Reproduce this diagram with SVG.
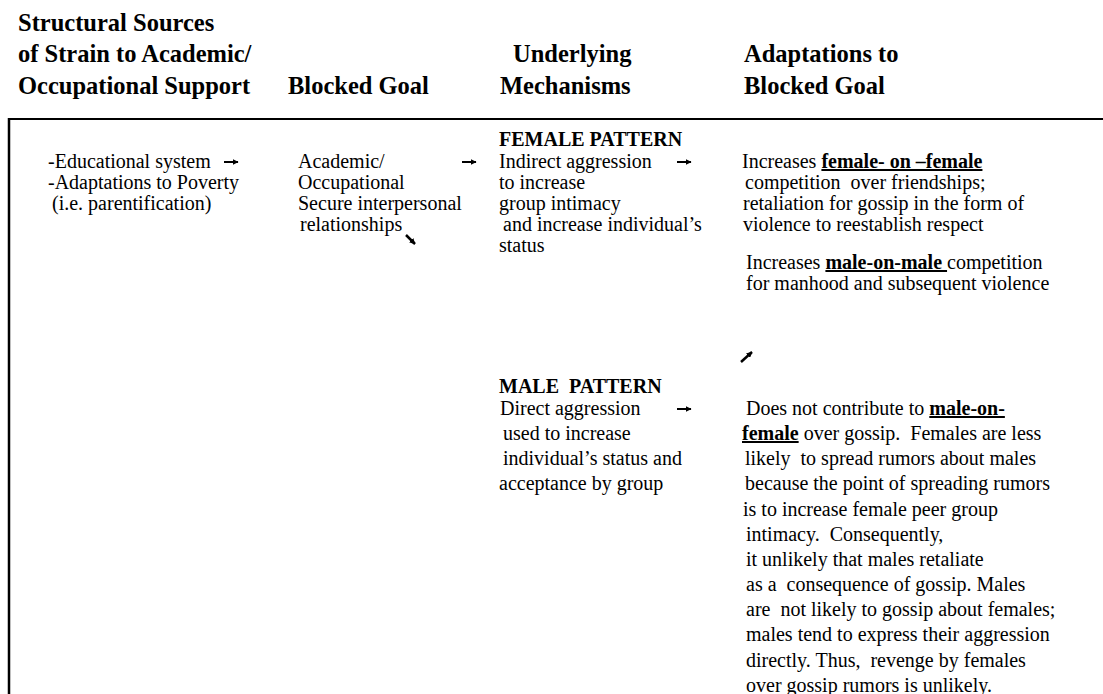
<svg xmlns="http://www.w3.org/2000/svg" width="1103" height="694" viewBox="0 0 1103 694">
  <defs>
    <marker id="head" viewBox="0 0 10 10" refX="9" refY="5" markerWidth="6" markerHeight="6" markerUnits="userSpaceOnUse" orient="auto">
      <path d="M0,0 L10,5 L0,10 Z" fill="#000"/>
    </marker>
    <style>
      text { font-family: "Liberation Serif", "Times New Roman", serif; fill: #000; white-space: pre; }
      .hd { font-size: 24.5px; font-weight: bold; }
      .tx { font-size: 20px; }
      .pt { font-size: 20px; font-weight: bold; }
      .em { font-weight: bold; text-decoration: underline; }
      .rule { stroke: #000; fill: none; }
      .arr { stroke: #000; stroke-width: 2; fill: none; marker-end: url(#head); }
      .diag { stroke: #000; stroke-width: 2.5; fill: none; marker-end: url(#head); }
    </style>
  </defs>
  <rect width="1103" height="694" fill="#fff"/>

  <!-- column headings -->
  <g id="headings">
    <text class="hd" x="18" y="31">Structural Sources</text>
    <text class="hd" x="18" y="62">of Strain to Academic/</text>
    <text class="hd" x="18" y="94">Occupational Support</text>
    <text class="hd" x="288" y="94">Blocked Goal</text>
    <text class="hd" x="513" y="62">Underlying</text>
    <text class="hd" x="500" y="94">Mechanisms</text>
    <text class="hd" x="744" y="62">Adaptations to</text>
    <text class="hd" x="744" y="94">Blocked Goal</text>
  </g>

  <!-- table frame -->
  <g id="frame">
    <line class="rule" x1="8" y1="119" x2="1103" y2="119" stroke-width="2"/>
    <line class="rule" x1="9" y1="118" x2="9" y2="694" stroke-width="2.5"/>
  </g>

  <g id="sources">
    <text class="tx" x="48" y="168">-Educational system</text>
    <text class="tx" x="48" y="189">-Adaptations to Poverty</text>
    <text class="tx" x="52" y="210">(i.e. parentification)</text>
  </g>

  <g id="blocked-goal">
    <text class="tx" x="298" y="168">Academic/</text>
    <text class="tx" x="298" y="189">Occupational</text>
    <text class="tx" x="298" y="210">Secure interpersonal</text>
    <text class="tx" x="300" y="231">relationships</text>
  </g>

  <g id="female-mechanism">
    <text class="pt" x="499" y="146">FEMALE PATTERN</text>
    <text class="tx" x="499" y="168">Indirect aggression</text>
    <text class="tx" x="499" y="189">to increase</text>
    <text class="tx" x="499" y="210">group intimacy</text>
    <text class="tx" x="503" y="231">and increase individual’s</text>
    <text class="tx" x="499" y="252">status</text>
  </g>

  <g id="female-adaptation">
    <text class="tx" x="742" y="168">Increases <tspan class="em">female- on –female</tspan></text>
    <text class="tx" x="745" y="189">competition  over friendships;</text>
    <text class="tx" x="743" y="210">retaliation for gossip in the form of</text>
    <text class="tx" x="743" y="231">violence to reestablish respect</text>
  </g>

  <g id="male-competition">
    <text class="tx" x="746" y="269">Increases <tspan class="em">male-on-male </tspan>competition</text>
    <text class="tx" x="746" y="290">for manhood and subsequent violence</text>
  </g>

  <g id="male-mechanism">
    <text class="pt" x="499" y="393">MALE  PATTERN</text>
    <text class="tx" x="500" y="415">Direct aggression</text>
    <text class="tx" x="503" y="440">used to increase</text>
    <text class="tx" x="503" y="465">individual’s status and</text>
    <text class="tx" x="499" y="490">acceptance by group</text>
  </g>

  <g id="male-adaptation">
    <text class="tx" x="746" y="415">Does not contribute to <tspan class="em">male-on-</tspan></text>
    <text class="tx" x="742" y="440"><tspan class="em">female</tspan> over gossip.  Females are less</text>
    <text class="tx" x="745" y="465">likely  to spread rumors about males</text>
    <text class="tx" x="745" y="490">because the point of spreading rumors</text>
    <text class="tx" x="743" y="516">is to increase female peer group</text>
    <text class="tx" x="746" y="541">intimacy.  Consequently,</text>
    <text class="tx" x="746" y="566">it unlikely that males retaliate</text>
    <text class="tx" x="746" y="591">as a  consequence of gossip. Males</text>
    <text class="tx" x="746" y="616">are  not likely to gossip about females;</text>
    <text class="tx" x="746" y="641">males tend to express their aggression</text>
    <text class="tx" x="746" y="667">directly. Thus,  revenge by females</text>
    <text class="tx" x="746" y="692">over gossip rumors is unlikely.</text>
  </g>

  <!-- small arrows linking the columns -->
  <g id="connectors">
    <line class="arr" x1="224" y1="162" x2="238" y2="162"/>
    <line class="arr" x1="462" y1="162" x2="476" y2="162"/>
    <line class="arr" x1="677" y1="162" x2="691" y2="162"/>
    <line class="arr" x1="677" y1="409" x2="691" y2="409"/>
    <line class="diag" x1="406" y1="235" x2="415" y2="244"/>
    <line class="diag" x1="741" y1="362" x2="752" y2="352"/>
  </g>
</svg>
